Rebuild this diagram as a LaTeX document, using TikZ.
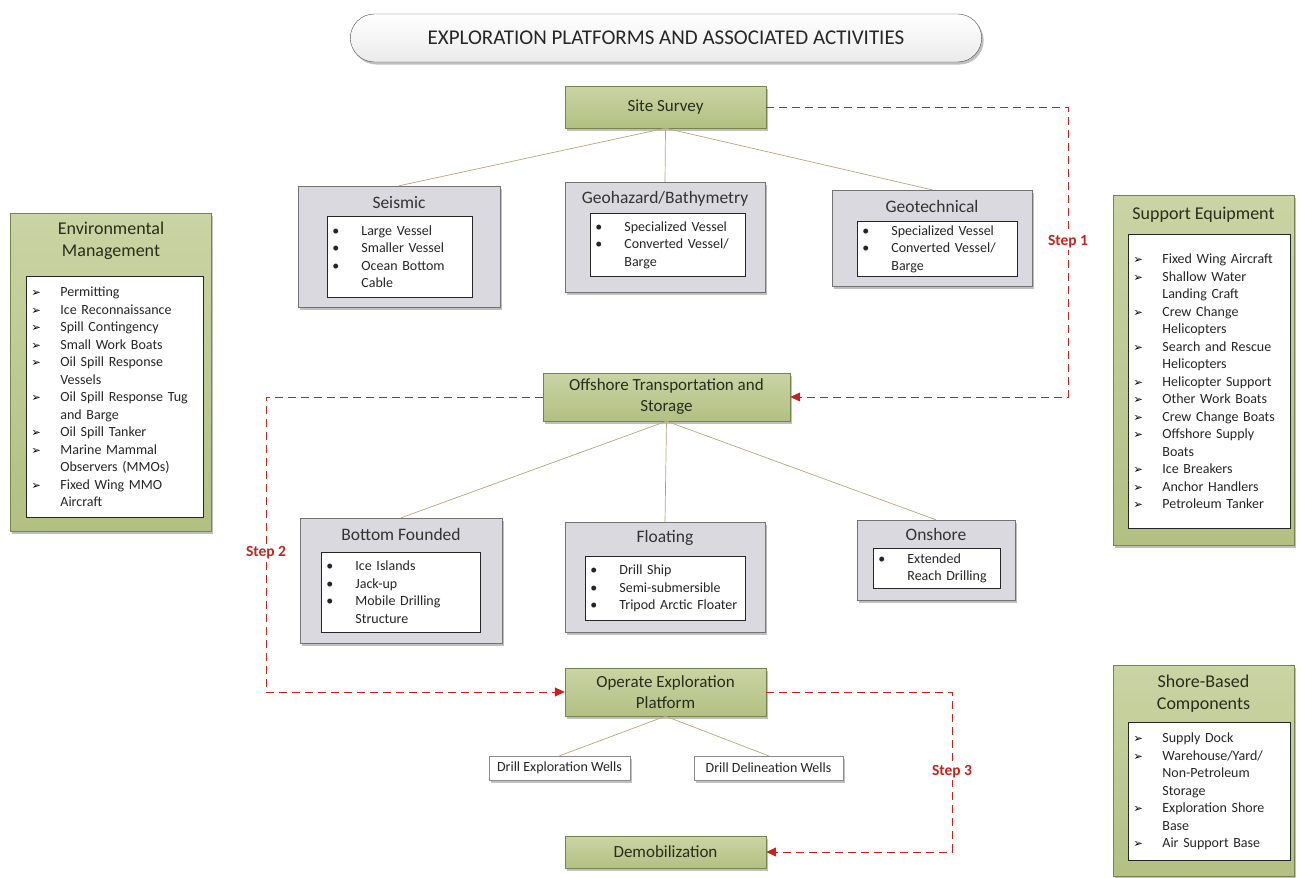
\documentclass[tikz,border=0pt]{standalone}
\usepackage{fontspec}
\setmainfont{Carlito}
\newfontfamily\symfont{DejaVu Sans}
\usetikzlibrary{arrows.meta,shadows,shapes.misc}

\definecolor{greenlt}{RGB}{202,212,164}
\definecolor{greenmd}{RGB}{178,192,130}
\definecolor{greendk}{RGB}{120,132,78}
\definecolor{catgray}{RGB}{219,217,224}
\definecolor{stepred}{RGB}{192,38,30}
\definecolor{linktan}{RGB}{182,166,128}
\definecolor{headtext}{RGB}{38,46,28}

% list line: bullet column, then text
\newcommand{\li}[2]{\makebox[29pt][l]{#1}#2}
\newcommand{\bul}{\textbullet}
\newcommand{\arr}{{\symfont\fontsize{11.5}{11.5}\selectfont\color{black}➢}}

\tikzset{
  shade/.style={drop shadow={opacity=0.5,shadow xshift=2pt,shadow yshift=-2.5pt}},
  titlebox/.style={rounded rectangle, draw=black!70, top color=white, bottom color=black!8,
    minimum width=638pt, minimum height=48pt, shade, font=\fontsize{21}{25}\selectfont, text=black!85},
  stage/.style={draw=greendk, top color=greenlt, bottom color=greenmd, shade,
    font=\fontsize{17}{21}\selectfont, text=headtext, align=center},
  sidebox/.style={draw=greendk, top color=greenlt, bottom color=greenmd, shade},
  sidehead/.style={font=\fontsize{18}{22}\selectfont, text=headtext, align=center},
  catbox/.style={draw=black!55, fill=catgray, shade},
  cathead/.style={font=\fontsize{17.5}{21}\selectfont, text=black!80},
  listbox/.style={draw=black!85, line width=0.8pt, fill=white, anchor=north west, align=left,
    inner xsep=5pt, inner ysep=2pt, font=\fontsize{14}{17.5}\selectfont, text=black!85},
  wellbox/.style={draw=black!45, fill=white, shade, minimum height=24pt,
    font=\fontsize{14}{17}\selectfont, text=black!85},
  link/.style={draw=linktan, line width=0.7pt},
  steparrow/.style={draw=stepred, line width=1pt, dash pattern=on 8pt off 5pt,
    -{Triangle[length=10pt,width=9pt]}},
  steplabel/.style={fill=white, inner sep=2pt, text=stepred, font=\bfseries\fontsize{15.5}{17}\selectfont},
}

\begin{document}
\begin{tikzpicture}[x=1pt,y=-1pt]
\useasboundingbox (0,0) rectangle (1304,878);

\node[titlebox] (title) at (666,38) {EXPLORATION PLATFORMS AND ASSOCIATED ACTIVITIES};

% main stages
\node[stage, minimum width=201pt, minimum height=42pt] (survey) at (665.5,107) {Site Survey};
\node[stage, minimum width=247pt, minimum height=48pt] (offshore) at (666.5,397) {Offshore Transportation and\\Storage};
\node[stage, minimum width=201pt, minimum height=48pt] (operate) at (665.5,692) {Operate Exploration\\Platform};
\node[stage, minimum width=201pt, minimum height=32pt] (demob) at (665.5,852) {Demobilization};

% site survey categories
\node[catbox, minimum width=202pt, minimum height=121pt] (seis) at (399,246.5) {};
\node[cathead] (seishead) at (399,203) {Seismic};
\node[listbox, text width=135pt, minimum height=81pt] (seislist) at (327,216)
  {\li{\bul}{Large Vessel}\\ \li{\bul}{Smaller Vessel}\\ \li{\bul}{Ocean Bottom}\\ \li{}{Cable}};

\node[catbox, minimum width=200pt, minimum height=110pt] (geohaz) at (665,237) {};
\node[cathead] (geohazhead) at (665,199) {Geohazard/Bathymetry};
\node[listbox, text width=145pt, minimum height=63pt] (geohazlist) at (590,213)
  {\li{\bul}{Specialized Vessel}\\ \li{\bul}{Converted Vessel/}\\ \li{}{Barge}};

\node[catbox, minimum width=200pt, minimum height=96pt] (geotech) at (932,238) {};
\node[cathead] (geotechhead) at (932,206) {Geotechnical};
\node[listbox, text width=150pt, minimum height=55pt] (geotechlist) at (857,221)
  {\li{\bul}{Specialized Vessel}\\ \li{\bul}{Converted Vessel/}\\ \li{}{Barge}};

% platform categories
\node[catbox, minimum width=202pt, minimum height=125pt] (bottom) at (401,580.5) {};
\node[cathead] (bottomhead) at (401,534) {Bottom Founded};
\node[listbox, text width=149pt, minimum height=80pt] (bottomlist) at (321,552)
  {\li{\bul}{Ice Islands}\\ \li{\bul}{Jack-up}\\ \li{\bul}{Mobile Drilling}\\ \li{}{Structure}};

\node[catbox, minimum width=200pt, minimum height=110pt] (float) at (665,577) {};
\node[cathead] (floathead) at (665,538) {Floating};
\node[listbox, text width=150pt, minimum height=64pt] (floatlist) at (585,556)
  {\li{\bul}{Drill Ship}\\ \li{\bul}{Semi-submersible}\\ \li{\bul}{Tripod Arctic Floater}};

\node[catbox, minimum width=158pt, minimum height=80pt] (onshore) at (936,560) {};
\node[cathead] (onshorehead) at (936,534) {Onshore};
\node[listbox, text width=117pt, minimum height=40pt] (onshorelist) at (873,548)
  {\li{\bul}{Extended}\\ \li{}{Reach Drilling}};

% wells
\node[wellbox, minimum width=141pt] (drillexp) at (559.5,768) {Drill Exploration Wells};
\node[wellbox, minimum width=149pt] (drilldel) at (768.5,768) {Drill Delineation Wells};

% side panels
\node[sidebox, minimum width=201pt, minimum height=318pt] (env) at (110.5,372) {};
\node[sidehead] (envhead) at (111,241) {Environmental\\Management};
\node[listbox, text width=167pt, minimum height=241pt] (envlist) at (26,276)
  {\li{\arr}{Permitting}\\ \li{\arr}{Ice Reconnaissance}\\ \li{\arr}{Spill Contingency}\\
   \li{\arr}{Small Work Boats}\\ \li{\arr}{Oil Spill Response}\\ \li{}{Vessels}\\
   \li{\arr}{Oil Spill Response Tug}\\ \li{}{and Barge}\\ \li{\arr}{Oil Spill Tanker}\\
   \li{\arr}{Marine Mammal}\\ \li{}{Observers (MMOs)}\\ \li{\arr}{Fixed Wing MMO}\\ \li{}{Aircraft}};

\node[sidebox, minimum width=181pt, minimum height=350pt] (support) at (1203.5,370) {};
\node[sidehead] (supporthead) at (1203.5,215) {Support Equipment};
\node[listbox, text width=152pt, minimum height=294pt] (supportlist) at (1128,234)
  {\li{\arr}{Fixed Wing Aircraft}\\ \li{\arr}{Shallow Water}\\ \li{}{Landing Craft}\\
   \li{\arr}{Crew Change}\\ \li{}{Helicopters}\\ \li{\arr}{Search and Rescue}\\ \li{}{Helicopters}\\
   \li{\arr}{Helicopter Support}\\ \li{\arr}{Other Work Boats}\\ \li{\arr}{Crew Change Boats}\\
   \li{\arr}{Offshore Supply}\\ \li{}{Boats}\\ \li{\arr}{Ice Breakers}\\
   \li{\arr}{Anchor Handlers}\\ \li{\arr}{Petroleum Tanker}};

\node[sidebox, minimum width=181pt, minimum height=211pt] (shore) at (1203.5,770.5) {};
\node[sidehead] (shorehead) at (1203.5,694) {Shore-Based\\Components};
\node[listbox, text width=152pt, minimum height=138pt] (shorelist) at (1128,722)
  {\li{\arr}{Supply Dock}\\ \li{\arr}{Warehouse/Yard/}\\ \li{}{Non-Petroleum}\\ \li{}{Storage}\\
   \li{\arr}{Exploration Shore}\\ \li{}{Base}\\ \li{\arr}{Air Support Base}};

% tree links
\draw[link] (survey.south) -- (seis.north);
\draw[link] (survey.south) -- (geohaz.north);
\draw[link] (survey.south) -- (geotech.north);
\draw[link] (offshore.south) -- (bottom.north);
\draw[link] (offshore.south) -- (float.north);
\draw[link] (offshore.south) -- (onshore.north);
\draw[link] (operate.south) -- (drillexp.north);
\draw[link] (operate.south) -- (drilldel.north);

% steps
\coordinate (s1) at (1068,242);
\coordinate (s2) at (266,553);
\coordinate (s3) at (952,772);
\draw[steparrow] (survey.east) -| (s1) |- (offshore.east);
\draw[steparrow] (offshore.west) -| (s2) |- (operate.west);
\draw[steparrow] (operate.east) -| (s3) |- (demob.east);
\node[steplabel] (step1) at (s1) {Step 1};
\node[steplabel] (step2) at (s2) {Step 2};
\node[steplabel] (step3) at (s3) {Step 3};

\end{tikzpicture}
\end{document}
